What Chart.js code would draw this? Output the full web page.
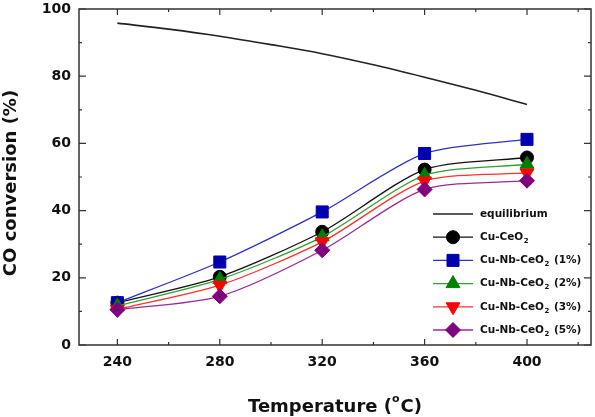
<!DOCTYPE html>
<html>
<head>
<meta charset="utf-8">
<script src="https://cdn.jsdelivr.net/npm/chart.js@4/dist/chart.umd.min.js"></script>
<style>
  html, body { margin: 0; padding: 0; background: #fff; }
  #wrap { width: 595px; height: 417px; }
</style>
</head>
<body>
<div id="wrap"><canvas id="chart" width="595" height="417"></canvas></div>
<script>
// ==================== DATA ====================

const temps = [240, 280, 320, 360, 400];
const eqTemps = [240, 260, 280, 300, 320, 340, 360, 380, 400];
const equilibrium = [95.8, 94.0, 91.9, 89.4, 86.7, 83.4, 79.7, 75.8, 71.6];

const cuCeO2 = [12.6, 20.3, 33.7, 52.2, 55.8];
const nb1 = [12.6, 24.7, 39.6, 57.0, 61.2];
const nb2 = [11.6, 19.5, 32.2, 50.5, 53.8];
const nb3 = [10.6, 17.8, 30.7, 48.8, 51.2];
const nb5 = [10.5, 14.5, 28.2, 46.3, 48.9];

const seriesLabels = ['equilibrium', 'Cu-CeO2', 'Cu-Nb-CeO2 (1%)', 'Cu-Nb-CeO2 (2%)', 'Cu-Nb-CeO2 (3%)', 'Cu-Nb-CeO2 (5%)'];

const xMajor = [240, 280, 320, 360, 400];
const xMinor = [260, 300, 340, 380, 420];
const yMajor = [0, 20, 40, 60, 80, 100];
const yMinor = [10, 30, 50, 70, 90];

const FONT = "'DejaVu Sans', sans-serif";

function pts(xs, ys) {
    return xs.map((x, i) => ({ x: x, y: ys[i] }));
}

function series(label, values, line, fill, style, radius, rotation, order) {
    return {
        label: label,
        data: pts(temps, values),
        borderColor: line,
        borderWidth: 1.3,
        backgroundColor: fill,
        pointBackgroundColor: fill,
        pointBorderColor: fill,
        pointBorderWidth: 1,
        pointStyle: style,
        pointRadius: radius,
        pointRotation: rotation,
        tension: 0.25,
        order: order
    };
}

const datasets = [
    {
        label: seriesLabels[0],
        data: pts(eqTemps, equilibrium),
        borderColor: '#222',
        borderWidth: 1.6,
        pointRadius: 0,
        cubicInterpolationMode: 'monotone',
        order: 6
    },
    series(seriesLabels[1], cuCeO2, '#111', '#000', 'circle', 6.5, 0, 5),
    series(seriesLabels[2], nb1, '#3030c8', '#0000b0', 'rect', 8.5, 0, 4),
    series(seriesLabels[3], nb2, '#30a030', '#008000', 'triangle', 8, 0, 3),
    series(seriesLabels[4], nb3, '#ff3030', '#ff0000', 'triangle', 8, 180, 2),
    series(seriesLabels[5], nb5, '#9a2a9a', '#800080', 'rectRot', 7.5, 0, 1)
];

// ==================== FRAME + INWARD TICKS ====================

const frameTicks = {
    id: 'frameTicks',
    afterDatasetsDraw(chart) {
        const ctx = chart.ctx;
        const a = chart.chartArea;
        const xs = chart.scales.x;
        const ys = chart.scales.y;
        ctx.save();
        ctx.strokeStyle = '#333';
        ctx.lineWidth = 1.5;
        ctx.strokeRect(a.left, a.top, a.right - a.left, a.bottom - a.top);
        ctx.lineWidth = 1.2;
        ctx.beginPath();
        const tickX = (vals, len) => vals.forEach(v => {
            const px = xs.getPixelForValue(v);
            ctx.moveTo(px, a.bottom); ctx.lineTo(px, a.bottom - len);
            ctx.moveTo(px, a.top); ctx.lineTo(px, a.top + len);
        });
        const tickY = (vals, len) => vals.forEach(v => {
            const py = ys.getPixelForValue(v);
            ctx.moveTo(a.left, py); ctx.lineTo(a.left + len, py);
            ctx.moveTo(a.right, py); ctx.lineTo(a.right - len, py);
        });
        tickX(xMajor, 6);
        tickX(xMinor, 3);
        tickY(yMajor, 7);
        tickY(yMinor, 3);
        ctx.stroke();
        ctx.restore();
    }
};

// ==================== LEGEND + AXIS TITLES ====================

function drawSubLabel(ctx, text, x, y) {
    // draws "CeO2" with the 2 as subscript
    const idx = text.indexOf('O2');
    ctx.font = 'bold 10.5px ' + FONT;
    if (idx < 0) { ctx.fillText(text, x, y); return; }
    const head = text.slice(0, idx + 1);
    const tail = text.slice(idx + 2);
    ctx.fillText(head, x, y);
    x += ctx.measureText(head).width;
    ctx.font = 'bold 7px ' + FONT;
    ctx.fillText('2', x + 0.5, y + 4);
    x += ctx.measureText('2').width + 1.5;
    ctx.font = 'bold 10.5px ' + FONT;
    ctx.fillText(tail, x, y);
}

const annotations = {
    id: 'annotations',
    afterDraw(chart) {
        const ctx = chart.ctx;
        const a = chart.chartArea;
        ctx.save();
        ctx.fillStyle = '#111';
        ctx.textBaseline = 'middle';

        // legend
        const y0 = 214, dy = 23.2;
        chart.data.datasets.forEach((ds, i) => {
            const y = y0 + i * dy;
            ctx.strokeStyle = ds.borderColor;
            ctx.lineWidth = ds.borderWidth;
            ctx.beginPath();
            ctx.moveTo(433, y);
            ctx.lineTo(473, y);
            ctx.stroke();
            if (ds.pointRadius > 0 && Chart.helpers && Chart.helpers.drawPoint) {
                ctx.fillStyle = ds.pointBackgroundColor;
                ctx.strokeStyle = ds.pointBorderColor;
                ctx.lineWidth = ds.pointBorderWidth;
                Chart.helpers.drawPoint(ctx, {
                    pointStyle: ds.pointStyle,
                    rotation: ds.pointRotation,
                    radius: ds.pointRadius,
                    borderWidth: ds.pointBorderWidth
                }, 453, y);
            }
            ctx.fillStyle = '#111';
            ctx.textAlign = 'left';
            drawSubLabel(ctx, ds.label, 480, y);
        });

        // y title
        ctx.font = 'bold 18px ' + FONT;
        ctx.textAlign = 'center';
        ctx.save();
        ctx.translate(11, 183);
        ctx.rotate(-Math.PI / 2);
        ctx.fillText('CO conversion (%)', 0, 0);
        ctx.restore();

        // x title with superscript o
        const p1 = 'Temperature (', p3 = 'C)';
        ctx.font = 'bold 18px ' + FONT;
        const w1 = ctx.measureText(p1).width;
        const w3 = ctx.measureText(p3).width;
        ctx.font = 'bold 11px ' + FONT;
        const w2 = ctx.measureText('o').width + 1;
        const total = w1 + w2 + w3;
        let x = (a.left + a.right) / 2 - total / 2;
        const ty = 407;
        ctx.textAlign = 'left';
        ctx.font = 'bold 18px ' + FONT;
        ctx.fillText(p1, x, ty);
        x += w1;
        ctx.font = 'bold 11px ' + FONT;
        ctx.fillText('o', x, ty - 8);
        x += w2;
        ctx.font = 'bold 18px ' + FONT;
        ctx.fillText(p3, x, ty);
        ctx.restore();
    }
};

// ==================== CHART ====================

new Chart(document.getElementById('chart'), {
    type: 'line',
    data: { datasets: datasets },
    options: {
        responsive: false,
        animation: false,
        layout: { autoPadding: false, padding: { top: 9, right: 4, left: 0, bottom: 0 } },
        plugins: {
            legend: { display: false },
            tooltip: { enabled: false },
            title: { display: false }
        },
        scales: {
            x: {
                type: 'linear',
                min: 225,
                max: 425,
                afterBuildTicks: s => { s.ticks = xMajor.map(v => ({ value: v })); },
                afterFit: s => { s.height = 72; s.paddingLeft = 0; s.paddingRight = 0; },
                grid: { display: false, drawTicks: false },
                border: { display: false },
                ticks: {
                    padding: 9,
                    color: '#111',
                    font: { family: FONT, size: 14, weight: 'bold' }
                }
            },
            y: {
                type: 'linear',
                min: 0,
                max: 100,
                afterBuildTicks: s => { s.ticks = yMajor.map(v => ({ value: v })); },
                afterFit: s => { s.width = 79; s.paddingTop = 0; s.paddingBottom = 0; },
                grid: { display: false, drawTicks: false },
                border: { display: false },
                ticks: {
                    padding: 8,
                    color: '#111',
                    font: { family: FONT, size: 14, weight: 'bold' }
                }
            }
        }
    },
    plugins: [frameTicks, annotations]
});
</script>
</body>
</html>
